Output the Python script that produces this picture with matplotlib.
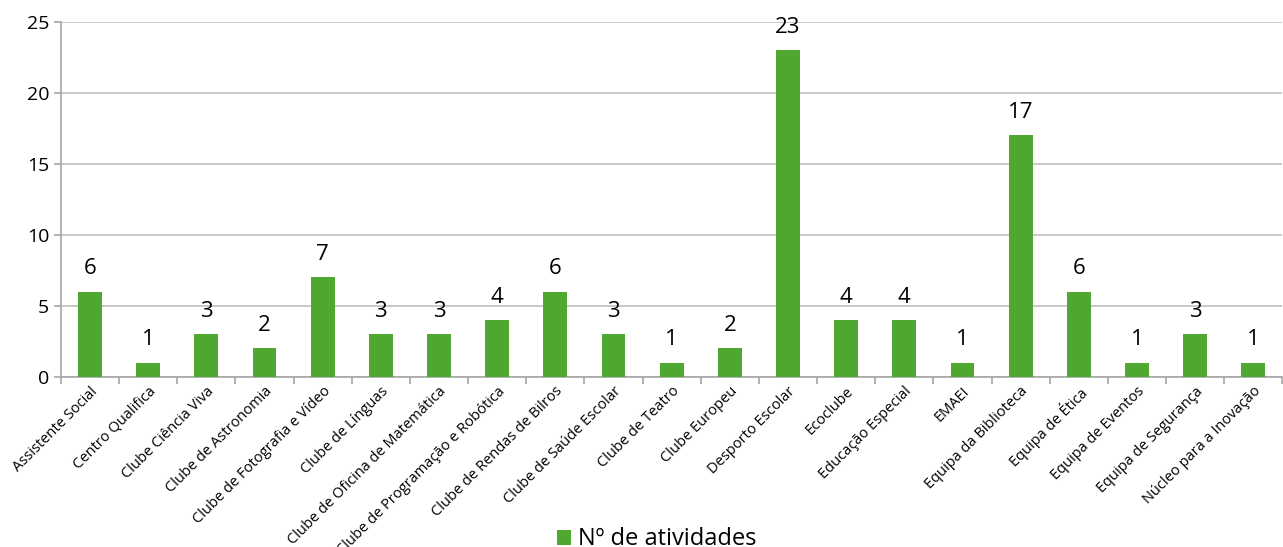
import matplotlib.pyplot as plt
import numpy as np

# categories and counts
categorias = ['Assistente Social', 'Centro Qualifica', 'Clube Ciência Viva',
              'Clube de Astronomia', 'Clube de Fotografia e Vídeo', 'Clube de Línguas',
              'Clube de Oficina de Matemática', 'Clube de Programação e Robótica',
              'Clube de Rendas de Bilros', 'Clube de Saúde Escolar', 'Clube de Teatro',
              'Clube Europeu', 'Desporto Escolar', 'Ecoclube', 'Educação Especial',
              'EMAEI', 'Equipa da Biblioteca', 'Equipa de Ética', 'Equipa de Eventos',
              'Equipa de Segurança', 'Núcleo para a Inovação']
atividades = [6, 1, 3, 2, 7, 3, 3, 4, 6, 3, 1, 2, 23, 4, 4, 1, 17, 6, 1, 3, 1]
yticks = [0, 5, 10, 15, 20, 25]

plt.rcParams['font.family'] = ['Open Sans', 'DejaVu Sans']
verde = '#4ea72e'
cinza = '#a6a6a6'

fig = plt.figure(figsize=(12.83, 5.47), dpi=100)
ax = fig.add_axes([0.0475, 0.311, 0.952, 0.649])

x = np.arange(len(categorias))
bars = ax.bar(x, atividades, width=0.41, color=verde, zorder=3, label='Nº de atividades')

for xi, v in zip(x, atividades):
    ax.annotate(str(v), (xi, v), xytext=(0, 9), textcoords='offset points',
                ha='center', va='bottom', fontsize=16)

ax.set_xlim(-0.5, len(categorias) - 0.5)
ax.set_ylim(0, 25)
ax.set_yticks(yticks)
ax.yaxis.grid(True, color='#bfbfbf', linewidth=1.2, zorder=0)
ax.tick_params(axis='y', labelsize=14, length=5, color=cinza, width=1.2)

ax.set_xticks(x)
ax.set_xticklabels(categorias, rotation=45, ha='right', rotation_mode='anchor', fontsize=10.5)
ax.tick_params(axis='x', length=0, pad=5)
ax.set_xticks(np.arange(len(categorias) + 1) - 0.5, minor=True)
ax.tick_params(axis='x', which='minor', length=5, color=cinza, width=1.2)

for s in ['top', 'right']:
    ax.spines[s].set_visible(False)
for s in ['left', 'bottom']:
    ax.spines[s].set_color(cinza)
    ax.spines[s].set_linewidth(1.2)

fig.legend(handles=[bars], loc='lower center', bbox_to_anchor=(0.512, -0.047),
           frameon=False, fontsize=17, handlelength=0.6, handleheight=0.6,
           handletextpad=0.3)

fig.savefig('out.png', dpi=100)
